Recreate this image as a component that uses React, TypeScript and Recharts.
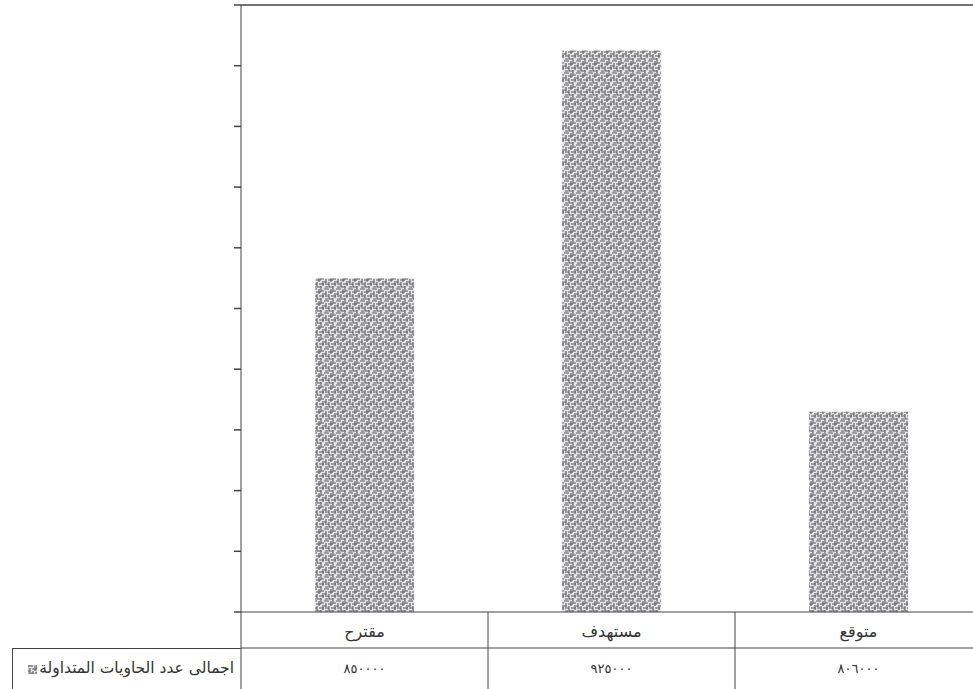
import React from 'react';
import { BarChart, Bar, XAxis, YAxis, ReferenceLine } from 'recharts';

const categories = ['مقترح', 'مستهدف', 'متوقع'];
const totals = [850000, 925000, 806000];
const yTicks = [740000, 760000, 780000, 800000, 820000, 840000, 860000, 880000, 900000, 920000, 940000];
const seriesName = 'اجمالى عدد الحاويات المتداولة';

const data = categories.map((name, i) => ({ name, value: totals[i] }));

const CHART_W = 1000;
const CHART_H = 712;
const PLOT_LEFT = 241;
const PLOT_RIGHT_MARGIN = 18;
const BAND = (CHART_W - PLOT_LEFT - PLOT_RIGHT_MARGIN) / categories.length;
const ROW1_TOP = 612;
const ROW2_TOP = 648;
const LINE = '#444';
const FONT = '"DejaVu Sans", sans-serif';

const toArabicDigits = (n: number) =>
  String(n).replace(/[0-9]/g, (d) => '٠١٢٣٤٥٦٧٨٩'[Number(d)]);

const CategoryTick = (props: any) => {
  const { x, payload } = props;
  return (
    <g>
      <line x1={x - BAND / 2} y1={ROW1_TOP} x2={x - BAND / 2} y2={ROW2_TOP} stroke={LINE} strokeWidth={1} />
      <text x={x} y={ROW1_TOP + 25} textAnchor="middle" fontSize={16} fill="#333" fontFamily={FONT}>
        {payload.value}
      </text>
    </g>
  );
};

const ValueTick = (props: any) => {
  const { x, index } = props;
  return (
    <g>
      <line x1={x - BAND / 2} y1={ROW2_TOP} x2={x - BAND / 2} y2={CHART_H} stroke={LINE} strokeWidth={1} />
      <text x={x} y={ROW2_TOP + 25} textAnchor="middle" fontSize={13} letterSpacing={3} fill="#333" fontFamily={FONT}>
        {toArabicDigits(totals[index])}
      </text>
    </g>
  );
};

export default function App() {
  return (
    <div style={{ position: 'absolute', left: 0, top: 0, width: 973, height: 689, overflow: 'hidden', background: '#fff' }}>
      <BarChart
        width={CHART_W}
        height={CHART_H}
        data={data}
        margin={{ top: 5, right: PLOT_RIGHT_MARGIN, left: 0, bottom: 0 }}
        barCategoryGap="30%"
      >
        <defs>
          <pattern id="maze" width="12" height="12" patternUnits="userSpaceOnUse">
            <rect width="12" height="12" fill="#e4e4e4" />
            <path
              d="M0 1H5M7 1V6M9 0V3H12M2 3V9M4 4H9M11 5V10M0 6H2M5 6V11H9M7 8H12M1 11H4M9 10V12M3 8H5"
              stroke="#5a5a62"
              strokeWidth="1.1"
              fill="none"
            />
          </pattern>
        </defs>
        <XAxis
          xAxisId="cat"
          dataKey="name"
          height={ROW2_TOP - ROW1_TOP}
          axisLine={{ stroke: LINE }}
          tickLine={false}
          tick={<CategoryTick />}
          interval={0}
        />
        <XAxis
          xAxisId="vals"
          dataKey="name"
          height={CHART_H - ROW2_TOP}
          axisLine={{ stroke: LINE }}
          tickLine={false}
          tick={<ValueTick />}
          interval={0}
        />
        <YAxis
          width={PLOT_LEFT}
          domain={[740000, 940000]}
          ticks={yTicks}
          allowDataOverflow
          tick={() => <g />}
          tickSize={7}
          tickLine={{ stroke: LINE, strokeWidth: 1.5 }}
          axisLine={{ stroke: LINE }}
        />
        <ReferenceLine xAxisId="cat" y={940000} stroke={LINE} strokeWidth={1.5} />
        <Bar xAxisId="cat" dataKey="value" name={seriesName} fill="url(#maze)" isAnimationActive={false} />
        <Bar xAxisId="vals" dataKey="value" fill="none" isAnimationActive={false} legendType="none" />
      </BarChart>
      <div
        style={{
          position: 'absolute',
          left: 12,
          top: ROW2_TOP,
          width: PLOT_LEFT - 12,
          height: 60,
          borderLeft: `1px solid ${LINE}`,
          borderTop: `1px solid ${LINE}`,
          boxSizing: 'border-box',
          fontFamily: FONT,
          fontSize: 15.5,
          color: '#333',
          direction: 'rtl',
          display: 'flex',
          alignItems: 'flex-start',
          paddingTop: 10,
          paddingRight: 7,
          gap: 2,
          whiteSpace: 'nowrap',
        }}
      >
        <span>{seriesName}</span>
        <svg width={9} height={9} style={{ marginTop: 6 }}>
          <rect width={9} height={9} fill="url(#maze)" stroke="#666" strokeWidth={0.5} />
        </svg>
      </div>
    </div>
  );
}
